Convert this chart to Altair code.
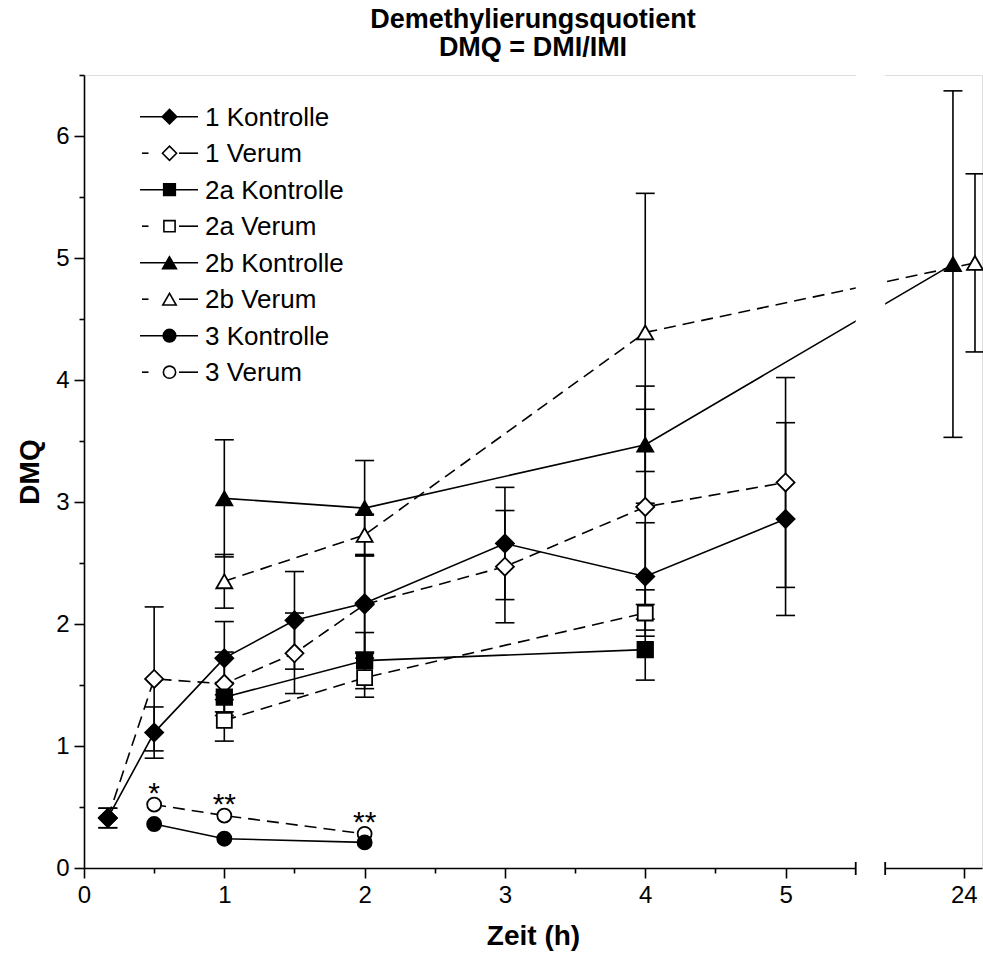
import altair as alt
import pandas as pd

# ---------------- data ----------------
series_names = ["1 Kontrolle", "1 Verum", "2a Kontrolle", "2a Verum",
                "2b Kontrolle", "2b Verum", "3 Kontrolle", "3 Verum"]

t_1 = [0.17, 0.5, 1, 1.5, 2, 3, 4, 5]
k1_mean = [0.41, 1.11, 1.72, 2.03, 2.17, 2.66, 2.39, 2.86]
k1_sd = [0.08, 0.21, 0.30, 0.40, 0.40, 0.46, 0.44, 0.79]
v1_mean = [0.41, 1.55, 1.51, 1.76, 2.16, 2.47, 2.96, 3.16]
v1_sd = [0.08, 0.59, 0.26, 0.33, 0.40, 0.46, 0.80, 0.86]

t_2a = [1, 2, 4]
k2a_mean = [1.40, 1.70, 1.79]
k2a_sd = [0.12, 0.23, 0.25]
v2a_mean = [1.21, 1.56, 2.09]
v2a_sd = [0.17, 0.16, 0.19]

t_2b = [1, 2, 4, 24]
k2b_mean = [3.03, 2.95, 3.47, 4.95]
k2b_sd = [0.48, 0.39, 0.48, 1.42]
v2b_mean = [2.35, 2.73, 4.39, 4.96]
v2b_sd = [0.22, 0.17, 1.14, 0.73]

t_3 = [0.5, 1, 2]
k3_mean = [0.36, 0.24, 0.21]
v3_mean = [0.52, 0.43, 0.28]

star_t = [0.5, 1, 2]
star_labels = ["*", "**", "**"]

x_tick_times = [0, 1, 2, 3, 4, 5, 24]
x_minor_times = [0.5, 1.5, 2.5, 3.5, 4.5]
y_ticks = [0, 1, 2, 3, 4, 5, 6]
y_minor = [0.5, 1.5, 2.5, 3.5, 4.5, 5.5, 6.5]

# ---------------- axis break (5.5 h ... 24 h) ----------------
BREAK_LO = 5.5          # last plotted hour before the break
BREAK_HI_U = 5.71       # plotted position where the axis resumes
U_24 = 6.27             # plotted position of 24 h
X_MAX_U = 6.4
Y_MAX = 6.5


def to_u(t):
    return t if t <= BREAK_LO else U_24 + (t - 24)


# ---------------- styles ----------------
STYLE = {
    "1 Kontrolle": ("diamond", "black", 324, 210),
    "1 Verum": ("diamond", "white", 324, 200),
    "2a Kontrolle": ("square", "black", 240, 135),
    "2a Verum": ("square", "white", 225, 125),
    "2b Kontrolle": ("triangle-up", "black", 256, 190),
    "2b Verum": ("triangle-up", "white", 256, 180),
    "3 Kontrolle": ("circle", "black", 200, 160),
    "3 Verum": ("circle", "white", 196, 150),
}
DODGE_24 = {"2b Kontrolle": -0.077, "2b Verum": 0.08}

series_data = [
    ("1 Kontrolle", t_1, k1_mean, k1_sd),
    ("1 Verum", t_1, v1_mean, v1_sd),
    ("2a Kontrolle", t_2a, k2a_mean, k2a_sd),
    ("2a Verum", t_2a, v2a_mean, v2a_sd),
    ("2b Kontrolle", t_2b, k2b_mean, k2b_sd),
    ("2b Verum", t_2b, v2b_mean, v2b_sd),
    ("3 Kontrolle", t_3, k3_mean, [0] * len(t_3)),
    ("3 Verum", t_3, v3_mean, [0] * len(t_3)),
]

rows = []
for name, ts, ms, sds in series_data:
    shape, fill, size, _ = STYLE[name]
    grp = "Verum" if "Verum" in name else "Kontrolle"
    for t, m, s in zip(ts, ms, sds):
        u = to_u(t) + (DODGE_24.get(name, 0) if t == 24 else 0)
        rows.append(dict(series=name, grp=grp, t=t, u=u, mean=m, sd=s,
                         lo=m - s, hi=m + s, shape=shape, fill=fill,
                         msize=size, z=0 if grp == "Verum" else 1))
df = pd.DataFrame(rows)
err_df = df[df.sd > 0]

leg_rows = []
for i, name in enumerate(series_names):
    shape, fill, _, lsize = STYLE[name]
    leg_rows.append(dict(series=name, i=i, shape=shape, fill=fill, lsize=lsize,
                         grp="Verum" if "Verum" in name else "Kontrolle"))
leg_df = pd.DataFrame(leg_rows)

star_df = pd.DataFrame({"u": [to_u(t) for t in star_t], "label": star_labels,
                        "mean": [v3_mean[t_3.index(t)] for t in star_t]})
break_df = pd.DataFrame({"u0": [BREAK_LO], "u1": [BREAK_HI_U], "y0": [0.0], "y1": [Y_MAX]})
cap_df = pd.DataFrame({"u": [BREAK_LO, BREAK_HI_U], "y0": [0.0, 0.0]})

# ---------------- layout ----------------
PX_X = 140.3
PX_Y = 122
W = round(X_MAX_U * PX_X)
H = round(Y_MAX * PX_Y)
FONT = "Liberation Sans"

x_vals = [to_u(t) for t in x_tick_times] + x_minor_times
y_vals = y_ticks + y_minor

x_axis = alt.Axis(
    values=x_vals,
    labelExpr="datum.value > 6 ? '24' : (datum.value % 1 === 0 ? format(datum.value, 'd') : '')",
    tickSize={"condition": {"test": "datum.value % 1 === 0 || datum.value > 6", "value": 10}, "value": 5},
    title="Zeit (h)", titleFontSize=28, titleFontWeight="bold", titleFont=FONT, titleColor="black",
    titleX=W / 2, titleY=68, titleAlign="center", titleBaseline="middle",
    labelFont=FONT, labelFontSize=24, labelColor="black", labelPadding=5,
    labelFlush=False, labelOverlap=False, labelBound=False,
    domainColor="black", domainWidth=1.6, tickColor="black", tickWidth=1.6,
    grid=False, zindex=0,
)
y_axis = alt.Axis(
    values=y_vals,
    labelExpr="datum.value % 1 === 0 ? format(datum.value, 'd') : ''",
    tickSize={"condition": {"test": "datum.value % 1 === 0", "value": 10}, "value": 5},
    title="DMQ", titleFontSize=28, titleFontWeight="bold", titleFont=FONT, titleColor="black",
    titleX=-54, titleY=H / 2, titleAngle=-90, titleAlign="center", titleBaseline="middle",
    labelFont=FONT, labelFontSize=24, labelColor="black", labelPadding=5,
    labelFlush=False, labelOverlap=False, labelBound=False,
    domainColor="black", domainWidth=1.6, tickColor="black", tickWidth=1.6,
    grid=False, zindex=0,
)
xs = alt.Scale(domain=[0, X_MAX_U], nice=False, zero=False)
ys = alt.Scale(domain=[0, Y_MAX], nice=False, zero=False)


def X(f):
    return alt.X(f, type="quantitative", scale=xs, axis=x_axis)


def Y(f):
    return alt.Y(f, type="quantitative", scale=ys, axis=y_axis)


err_rule = alt.Chart(err_df).mark_rule(color="black", strokeWidth=1.6).encode(
    x=X("u"), y=Y("lo"), y2="hi")
cap_lo = alt.Chart(err_df).mark_tick(orient="horizontal", size=19, thickness=1.6, color="black",
                                     opacity=1).encode(x=X("u"), y=Y("lo"))
cap_hi = alt.Chart(err_df).mark_tick(orient="horizontal", size=19, thickness=1.6, color="black",
                                     opacity=1).encode(x=X("u"), y=Y("hi"))

line_k = alt.Chart(df).transform_filter("datum.grp === 'Kontrolle'").mark_line(
    color="black", strokeWidth=1.6).encode(x=X("u"), y=Y("mean"), detail="series:N",
                                           order=alt.Order("u:Q"))
line_v = alt.Chart(df).transform_filter("datum.grp === 'Verum'").mark_line(
    color="black", strokeWidth=1.6, strokeDash=[12, 7]).encode(
    x=X("u"), y=Y("mean"), detail="series:N", order=alt.Order("u:Q"))

gap = alt.Chart(break_df).mark_rect(color="white", opacity=1, y2Offset=5).encode(
    x=X("u0"), x2="u1", y=Y("y1"), y2="y0")
gap_caps = alt.Chart(cap_df).mark_rule(color="black", strokeWidth=1.8, yOffset=-6, y2Offset=7).encode(
    x=X("u"), y=Y("y0"), y2="y0")

points = alt.Chart(df).mark_point(filled=True, stroke="black", strokeWidth=1.8, opacity=1,
                                  fillOpacity=1).encode(
    x=X("u"), y=Y("mean"),
    shape=alt.Shape("shape:N", scale=None),
    fill=alt.Fill("fill:N", scale=None),
    size=alt.Size("msize:Q", scale=None),
    order=alt.Order("z:Q"),
)

stars = alt.Chart(star_df).mark_text(font=FONT, fontSize=30, color="black", align="center",
                                     baseline="alphabetic", dy=-2).encode(
    x=X("u"), y=Y("mean"), text="label:N")

# ---------------- custom legend ----------------
LEG_Y0, LEG_DY = 41.7, 36.5
leg = alt.Chart(leg_df).transform_calculate(ly=f"{LEG_Y0} + datum.i * {LEG_DY}")
ly = alt.Y("ly:Q", scale=None, axis=None)
leg_line_k = leg.transform_filter("datum.grp === 'Kontrolle'").mark_rule(
    color="black", strokeWidth=1.6).encode(x=alt.value(56), x2=alt.value(114), y=ly)
leg_line_v1 = leg.transform_filter("datum.grp === 'Verum'").mark_rule(
    color="black", strokeWidth=1.6).encode(x=alt.value(58), x2=alt.value(64.5), y=ly)
leg_line_v2 = leg.transform_filter("datum.grp === 'Verum'").mark_rule(
    color="black", strokeWidth=1.6).encode(x=alt.value(95), x2=alt.value(114), y=ly)
leg_pts = leg.mark_point(filled=True, stroke="black", strokeWidth=1.6, opacity=1,
                         fillOpacity=1).encode(
    x=alt.value(85.5), y=ly,
    shape=alt.Shape("shape:N", scale=None),
    fill=alt.Fill("fill:N", scale=None),
    size=alt.Size("lsize:Q", scale=None),
)
leg_txt = leg.mark_text(font=FONT, fontSize=26, color="black", align="left",
                        baseline="middle", dy=1).encode(
    x=alt.value(121), y=ly, text="series:N")

chart = alt.layer(
    err_rule, cap_lo, cap_hi, line_k, line_v, gap, gap_caps, points, stars,
    leg_line_k, leg_line_v1, leg_line_v2, leg_pts, leg_txt,
).properties(
    width=W, height=H,
    title=alt.TitleParams(["Demethylierungsquotient", "DMQ = DMI/IMI"], fontSize=27,
                          fontWeight="bold", font=FONT, color="black", anchor="middle",
                          frame="group", offset=1, lineHeight=28),
    autosize=alt.AutoSizeParams(type="none"),
    padding={"left": 84, "top": 75, "right": 1, "bottom": 90},
    background="white",
).configure_view(stroke=None).configure(font=FONT)

chart.save("out.html", embed_options={"renderer": "svg", "actions": False})
